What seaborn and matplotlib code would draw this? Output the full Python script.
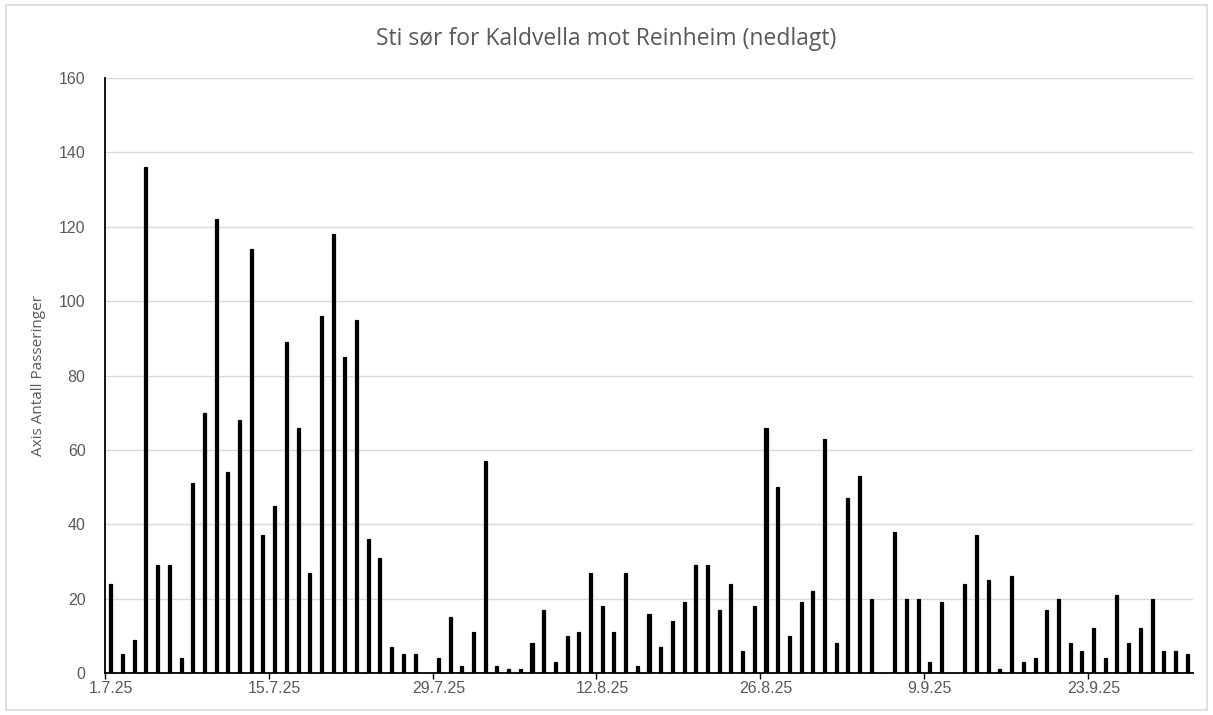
import matplotlib
matplotlib.use("Agg")
import matplotlib.pyplot as plt
import seaborn as sns
import pandas as pd
import numpy as np
from matplotlib.patches import Rectangle

# ---- data ----
start_date = "2025-07-01"
end_date = "2025-10-01"
counts = [24, 5, 9, 136, 29, 29, 4, 51, 70, 122, 54, 68, 114, 37, 45, 89, 66, 27,
          96, 118, 85, 95, 36, 31, 7, 5, 5, 0, 4, 15, 2, 11, 57, 2, 1, 1, 8, 17,
          3, 10, 11, 27, 18, 11, 27, 2, 16, 7, 14, 19, 29, 29, 17, 24, 6, 18, 66,
          50, 10, 19, 22, 63, 8, 47, 53, 20, 0, 38, 20, 20, 3, 19, 0, 24, 37, 25,
          1, 26, 3, 4, 17, 20, 8, 6, 12, 4, 21, 8, 12, 20, 6, 6, 5]
tick_labels = ["1.7.25", "15.7.25", "29.7.25", "12.8.25", "26.8.25", "9.9.25", "23.9.25"]
title = "Sti sør for Kaldvella mot Reinheim (nedlagt)"
ylabel = "Axis Antall Passeringer"

dates = pd.date_range(start_date, end_date, freq="D")
df = pd.DataFrame({"dag": [d.strftime("%Y-%m-%d") for d in dates], "antall": counts})

# ---- style ----
sns.set_style("white")
plt.rcParams["font.family"] = ["Open Sans", "DejaVu Sans"]
grey = "#595959"
tick_font = ["Liberation Sans", "DejaVu Sans"]

fig = plt.figure(figsize=(12.13, 7.15), dpi=100)
ax = fig.add_axes([105 / 1213, 42 / 715, 1088 / 1213, 595 / 715])

sns.barplot(data=df, x="dag", y="antall", color="black", width=0.26,
            saturation=1, edgecolor="black", linewidth=0.9, ax=ax, zorder=3)

n = len(counts)
ax.set_xlim(-0.5, n - 0.5)
ax.set_ylim(0, 160)
ax.set_yticks(np.arange(0, 161, 20))
ax.yaxis.grid(True, color="#d9d9d9", linewidth=1.0, zorder=0)
ax.xaxis.grid(False)

# tick marks at day edges every 14 days, labels centred on day
edge_pos = np.arange(0, n, 14) - 0.5
ax.set_xticks(edge_pos)
ax.set_xticklabels([])
ax.tick_params(axis="x", which="major", length=4, width=1, color="black",
               direction="out", bottom=True)
ax.set_xticks(edge_pos + 0.5, minor=True)
ax.set_xticklabels(tick_labels, minor=True)
ax.tick_params(axis="x", which="minor", length=0, pad=6, labelsize=11.5, labelcolor=grey)
ax.tick_params(axis="y", length=0, pad=14, labelsize=11.5, labelcolor=grey)
for lab in ax.get_xticklabels(minor=True) + ax.get_yticklabels():
    lab.set_family(tick_font)

for s in ["top", "right"]:
    ax.spines[s].set_visible(False)
for s in ["left", "bottom"]:
    ax.spines[s].set_color("black")
    ax.spines[s].set_linewidth(1.3)
    ax.spines[s].set_zorder(4)

ax.set_xlabel("")
ax.set_ylabel(ylabel, color=grey, fontsize=11, labelpad=9)

fig.text(0.5, 1 - 39 / 715, title, ha="center", va="center",
         fontsize=16.5, color=grey)

fig.patches.append(Rectangle((6 / 1213, 5 / 715), 1 - 12 / 1213, 1 - 10 / 715,
                             transform=fig.transFigure, fill=False,
                             edgecolor="#d9d9d9", linewidth=1.2))

fig.savefig("out.png", dpi=100)
